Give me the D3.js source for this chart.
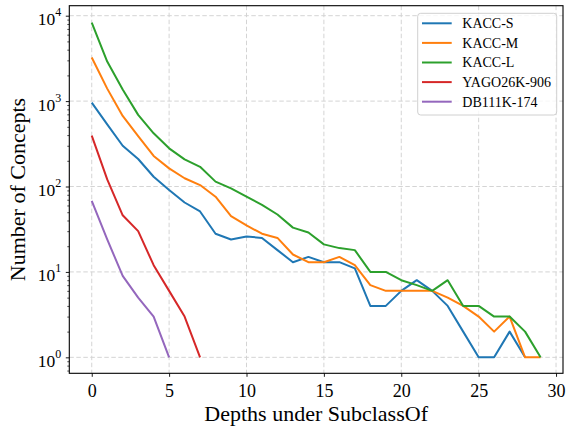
<!DOCTYPE html>
<html><head><meta charset="utf-8">
<script src="https://cdn.jsdelivr.net/npm/d3@7"></script>
<style>body{margin:0;background:#fff}svg{display:block}text{font-family:"Liberation Serif","Times New Roman",serif;fill:#000}</style>
</head><body><svg id="c" width="582" height="427"></svg>
<script>
const depths = d3.range(0, 30);
const xTicks = [0, 5, 10, 15, 20, 25, 30];
const yTicks = [1, 10, 100, 1000, 10000];
const seriesNames = ["KACC-S", "KACC-M", "KACC-L", "YAGO26K-906", "DB111K-174"];
const colors = ["#1f77b4", "#ff7f0e", "#2ca02c", "#d62728", "#9467bd"];
const kaccS = [960,535,300,210,130,91,65,51,28,24,26,25,18,13,15,13,13,11,4,4,6,8,6,4,2,1,1,2,1];
const kaccM = [3240,1400,670,390,228,163,125,104,76,45,35,28,25,16,13,13,15,12,7,6,6,6,6,5,4,3,2,3,1,1];
const kaccL = [8300,2900,1370,690,420,280,208,170,114,95,76,61,47,33,29,21,19,18,10,10,8,7,6,8,4,4,3,3,2,1];
const yago = [394,121,46,30,12,6,3,1];
const db111 = [68,24,9,5,3,1];
const allSeries = [kaccS, kaccM, kaccL, yago, db111];

const L = 69.3, R = 563, T = 5.7, B = 373.3;
const svg = d3.select("#c");
const x = d3.scaleLinear().domain([-1.45, 30.45]).range([L, R]);
const y = d3.scaleLog().domain([Math.pow(10, -0.187), Math.pow(10, 4.117)]).range([B, T]);

// grid
const g = svg.append("g");
g.selectAll(".gx").data(xTicks).enter().append("line")
  .attr("x1", d => x(d)).attr("x2", d => x(d)).attr("y1", T).attr("y2", B)
  .attr("stroke", "#d4d4d4").attr("stroke-width", 1).attr("stroke-dasharray", "4.5,2.5");
g.selectAll(".gy").data(yTicks).enter().append("line")
  .attr("x1", L).attr("x2", R).attr("y1", d => y(d)).attr("y2", d => y(d))
  .attr("stroke", "#d4d4d4").attr("stroke-width", 1).attr("stroke-dasharray", "4.5,2.5");

// lines
const line = d3.line().x((d, i) => x(depths[i])).y(d => y(d));
allSeries.forEach((s, k) => {
  svg.append("path").datum(s).attr("d", line).attr("fill", "none")
    .attr("stroke", colors[k]).attr("stroke-width", 2).attr("stroke-linejoin", "round");
});

// axes
const xAxis = d3.axisBottom(x).tickValues(xTicks).tickSize(3.5).tickPadding(7).tickFormat(d3.format("d"));
const gx = svg.append("g").attr("transform", `translate(0,${B})`).call(xAxis);
gx.select(".domain").remove();
gx.selectAll("text").attr("font-size", 18).style("font-family", '"Liberation Serif",serif');
gx.selectAll("line").attr("stroke", "#000").attr("stroke-width", 0.9);

const minor = [];
for (let e = -1; e <= 4; e++) for (let m = 2; m <= 9; m++) { const v = m * Math.pow(10, e); if (v >= y.domain()[0] && v <= y.domain()[1]) minor.push(v); }
const gyMin = svg.append("g").attr("transform", `translate(${L},0)`)
  .call(d3.axisLeft(y).tickValues(minor).tickSize(2).tickFormat(""));
gyMin.select(".domain").remove();
gyMin.selectAll("line").attr("stroke", "#000").attr("stroke-width", 0.7);
const gy = svg.append("g").attr("transform", `translate(${L},0)`)
  .call(d3.axisLeft(y).tickValues(yTicks).tickSize(3.5).tickFormat(""));
gy.select(".domain").remove();
gy.selectAll("line").attr("stroke", "#000").attr("stroke-width", 0.9);
yTicks.forEach(v => {
  const t = svg.append("text").attr("x", L - 8).attr("y", y(v) + 9.5)
    .attr("text-anchor", "end").attr("font-size", 17.5);
  t.append("tspan").text("10");
  t.append("tspan").attr("dy", -9).attr("font-size", 12).text(String(Math.round(Math.log10(v))));
});

// frame
svg.append("rect").attr("x", L).attr("y", T).attr("width", R - L).attr("height", B - T)
  .attr("fill", "none").attr("stroke", "#000").attr("stroke-width", 1.1);

// labels
svg.append("text").attr("x", (L + R) / 2).attr("y", 421).attr("text-anchor", "middle")
  .attr("font-size", 22).text("Depths under SubclassOf");
svg.append("text").attr("transform", `translate(25,${(T + B) / 2}) rotate(-90)`)
  .attr("text-anchor", "middle").attr("font-size", 22).text("Number of Concepts");

// legend
const lg = svg.append("g");
lg.append("rect").attr("x", 417.7).attr("y", 13.3).attr("width", 139).attr("height", 101.7)
  .attr("rx", 3).attr("fill", "#fff").attr("fill-opacity", 0.8).attr("stroke", "#d0d0d0").attr("stroke-width", 1);
seriesNames.forEach((n, i) => {
  const yy = 23.3 + i * 19.6;
  lg.append("line").attr("x1", 422).attr("x2", 451.7).attr("y1", yy).attr("y2", yy)
    .attr("stroke", colors[i]).attr("stroke-width", 2);
  lg.append("text").attr("x", 462.3).attr("y", yy + 4.8).attr("font-size", 14).text(n);
});
</script></body></html>
